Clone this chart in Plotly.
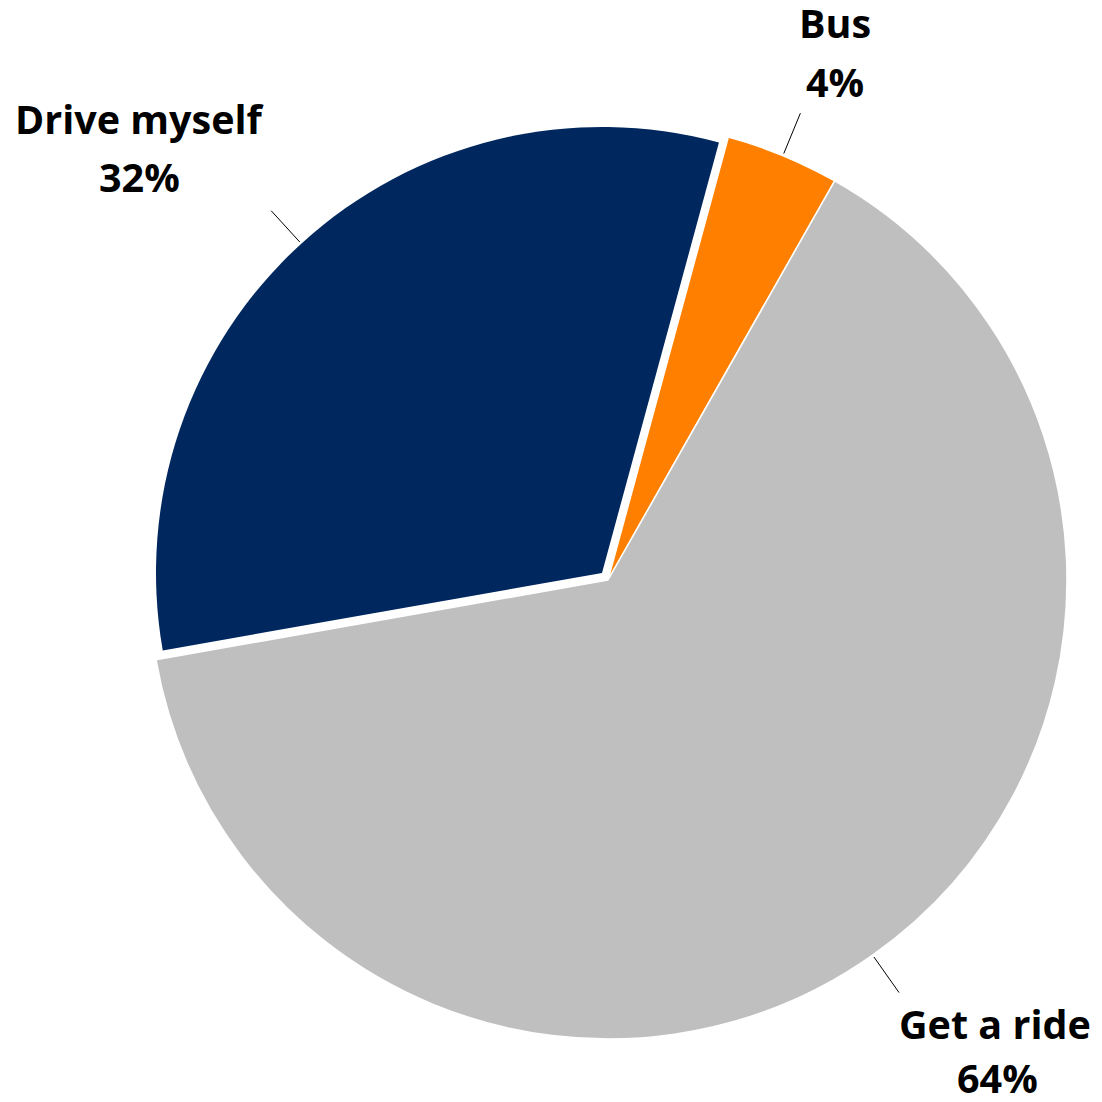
import numpy as np
import plotly.graph_objects as go

labels = ["Bus", "Get a ride", "Drive myself"]
values = [4, 64, 32]
colors = ["#FF8000", "#BFBFBF", "#00275E"]

W = H = 1102
rotation = 15.2
# main pie (bus + get a ride) and the exploded, slightly smaller "Drive myself" slice
main = dict(cx=608, cy=580, r=459)
expl = dict(cx=602, cy=573, r=446)


def dom(c):
    return dict(x=[(c["cx"] - c["r"]) / W, (c["cx"] + c["r"]) / W],
                y=[(H - c["cy"] - c["r"]) / H, (H - c["cy"] + c["r"]) / H])


common = dict(labels=labels, values=values, sort=False, direction="clockwise",
              rotation=rotation, textinfo="none", hoverinfo="label+percent")
fig = go.Figure()
fig.add_trace(go.Pie(**common, domain=dom(main),
                     marker=dict(colors=[colors[0], colors[1], "rgba(0,0,0,0)"],
                                 line=dict(color="white", width=[1.5, 1.5, 0]))))
fig.add_trace(go.Pie(**common, domain=dom(expl),
                     marker=dict(colors=["rgba(0,0,0,0)", "rgba(0,0,0,0)", colors[2]],
                                 line=dict(width=0))))

# leader lines from the middle of each slice
total = sum(values)
start = rotation
mids = []
for v in values:
    mids.append(start + v / total * 180)
    start += v / total * 360

shapes = []
for lab, ang in zip(labels, mids):
    c = expl if lab == "Drive myself" else main
    a = np.radians(ang)
    x0, y0 = c["cx"] + 1.005 * c["r"] * np.sin(a), c["cy"] - 1.005 * c["r"] * np.cos(a)
    x1, y1 = c["cx"] + 1.10 * c["r"] * np.sin(a), c["cy"] - 1.10 * c["r"] * np.cos(a)
    shapes.append(dict(type="line", xref="paper", yref="paper",
                       x0=x0 / W, y0=1 - y0 / H, x1=x1 / W, y1=1 - y1 / H,
                       line=dict(color="black", width=1)))

# label placement (pixels): x of name, x of percent, y of name, y of percent
label_pos = {"Bus": (835, 835, 23, 82),
             "Get a ride": (995, 997, 1024, 1078),
             "Drive myself": (140, 139, 119, 177)}
font = dict(family="Open Sans", size=39.5, color="black")
annotations = []
for lab, v in zip(labels, values):
    xa, xb, ya, yb = label_pos[lab]
    for txt, x, y in ((lab, xa, ya), (f"{v / total * 100:.0f}%", xb, yb)):
        annotations.append(dict(text=f"<b>{txt}</b>", x=x / W, y=1 - y / H,
                                xref="paper", yref="paper", showarrow=False,
                                xanchor="center", yanchor="middle", font=font))

fig.update_layout(width=W, height=H, margin=dict(l=0, r=0, t=0, b=0),
                  showlegend=False, paper_bgcolor="white",
                  shapes=shapes, annotations=annotations)

fig.write_html("out.html", config={"displayModeBar": False},
               post_script="document.body.style.margin='0';"
                           "document.body.style.overflow='hidden';")
